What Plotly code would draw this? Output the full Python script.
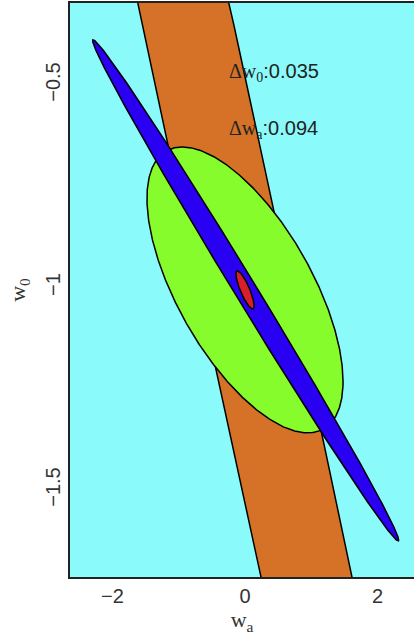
import numpy as np
import plotly.graph_objects as go

# Ellipse descriptions (data units): centre, half-extent in w_a, half-extent in w_0, correlation
names = ["band", "green", "blue", "red"]
center_wa = [0.0, 0.0, 0.01, 0.0]
center_w0 = [-1.007, -1.006, -1.007, -1.006]
half_wa = [6.59, 1.48, 2.31, 0.137]
half_w0 = [5.0, 0.353, 0.619, 0.047]
rho = [-0.9944, -0.64, -0.9965, -0.83]
fills = ["#D67227", "#86FC2C", "#2A00F2", "#D8202A"]

x_ticks = [-2, 0, 2]
y_ticks = [-1.5, -1, -0.5]
y_tick_text = ["\u22121.5", "\u22121", "\u22120.5"]
x_tick_text = ["\u22122", "0", "2"]

label_sym = ["\u0394w<sub>0</sub>", "\u0394w<sub>a</sub>"]
label_val = [":0.035", ":0.094"]
label_y = [-0.47, -0.61]

t = np.linspace(0, 2 * np.pi, 721)
fig = go.Figure()
for i in range(len(names)):
    x = center_wa[i] + half_wa[i] * np.cos(t)
    y = center_w0[i] + half_w0[i] * (rho[i] * np.cos(t) + np.sqrt(1 - rho[i] ** 2) * np.sin(t))
    fig.add_trace(go.Scatter(x=x, y=y, mode="lines", fill="toself", fillcolor=fills[i],
                             line=dict(color="black", width=1.5), hoverinfo="skip",
                             showlegend=False))

for sym, val, yy in zip(label_sym, label_val, label_y):
    txt = sym + '<span style="font-family:Liberation Sans">' + val + "</span>"
    fig.add_annotation(x=-0.27, y=yy, text=txt, showarrow=False, xanchor="left",
                       yanchor="middle",
                       font=dict(family="Liberation Serif", size=20, color="#222"))

fig.update_layout(
    width=414, height=641,
    margin=dict(l=70, r=0, t=3, b=64),
    paper_bgcolor="white", plot_bgcolor="#8AFBFA",
    showlegend=False,
)
fig.update_xaxes(range=[-2.6415, 2.551], showgrid=False, zeroline=False,
                 showline=True, linecolor="#222", linewidth=2, mirror=True,
                 tickvals=x_ticks, ticktext=x_tick_text, ticks="",
                 tickfont=dict(family="Liberation Sans", size=20, color="#333"),
                 title=dict(text="w<sub>a</sub>", standoff=4,
                            font=dict(family="Liberation Serif", size=22, color="#333")))
fig.update_yaxes(range=[-1.7148, -0.2975], showgrid=False, zeroline=False,
                 showline=True, linecolor="#222", linewidth=2, mirror=False,
                 tickvals=y_ticks, ticktext=y_tick_text, ticks="", tickangle=-90,
                 tickfont=dict(family="Liberation Sans", size=20, color="#333"),
                 title=dict(text="w<sub>0</sub>", standoff=10,
                            font=dict(family="Liberation Serif", size=22, color="#333")))

fig.write_html("out.html")
